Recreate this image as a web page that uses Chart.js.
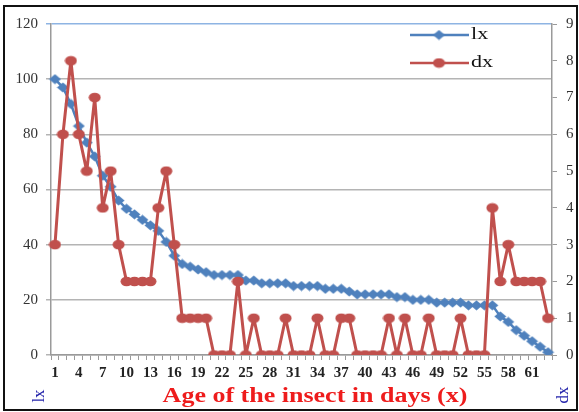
<!DOCTYPE html>
<html><head><meta charset="utf-8">
<script src="https://cdn.jsdelivr.net/npm/chart.js@4.4.0/dist/chart.umd.min.js"></script>
<style>html,body{margin:0;padding:0;background:#fff}canvas{display:block}</style>
</head><body>
<canvas id="c" width="579" height="412"></canvas>
<script>
// Age of insect in days (categories)
const days = ['1','2','3','4','5','6','7','8','9','10','11','12','13','14','15','16','17','18','19','20','21','22','23','24','25','26','27','28','29','30','31','32','33','34','35','36','37','38','39','40','41','42','43','44','45','46','47','48','49','50','51','52','53','54','55','56','57','58','59','60','61','62','63'];
// lx: survivors (left axis)
const lx = [100,97,91,83,77,72,65,61,56,53,51,49,47,45,41,36,33,32,31,30,29,29,29,29,27,27,26,26,26,26,25,25,25,25,24,24,24,23,22,22,22,22,22,21,21,20,20,20,19,19,19,19,18,18,18,18,14,12,9,7,5,3,1];
// dx: deaths (right axis)
const dx = [3,6,8,6,5,7,4,5,3,2,2,2,2,4,5,3,1,1,1,1,0,0,0,2,0,1,0,0,0,1,0,0,0,1,0,0,1,1,0,0,0,0,1,0,1,0,0,1,0,0,0,1,0,0,0,4,2,3,2,2,2,2,1];
// tick labels
const xTickLabels = ['1','4','7','10','13','16','19','22','25','28','31','34','37','40','43','46','49','52','55','58','61'];
const lxTicks = [0,20,40,60,80,100,120];
const dxTicks = [0,1,2,3,4,5,6,7,8,9];

const BLUE = '#4f81bd', RED = '#c0504d';
const tickFont = {family:'Liberation Serif', size:15};

function marker(kind, color){
  const cv = document.createElement('canvas');
  cv.width = 13; cv.height = 11;
  const g = cv.getContext('2d');
  g.fillStyle = color;
  g.beginPath();
  if (kind==='d'){ g.moveTo(6.5,0.5); g.lineTo(12.5,5.5); g.lineTo(6.5,10.5); g.lineTo(0.5,5.5); g.closePath(); }
  else { g.ellipse(6.5,5.5,6,4.8,0,0,Math.PI*2); }
  g.fill();
  return cv;
}
const diamondImg = marker('d', BLUE);
const circleImg = marker('c', RED);

const overlay = {
  id:'overlay',
  afterDraw(chart){
    const ctx = chart.ctx;
    ctx.save();
    // outer frame
    ctx.strokeStyle = '#111'; ctx.lineWidth = 2;
    ctx.strokeRect(4, 6, 573, 404);
    // legend
    const items = [{t:'lx', c:BLUE, y:35, img:diamondImg}, {t:'dx', c:RED, y:63, img:circleImg}];
    items.forEach(it=>{
      ctx.strokeStyle = it.c; ctx.lineWidth = 2.5;
      ctx.beginPath(); ctx.moveTo(410, it.y); ctx.lineTo(469, it.y); ctx.stroke();
      ctx.drawImage(it.img, 439-6.5, it.y-5.5);
      ctx.save();
      ctx.translate(471, it.y); ctx.scale(1.3, 1);
      ctx.fillStyle = '#111'; ctx.font = '17px "Liberation Serif"';
      ctx.textAlign = 'left'; ctx.textBaseline = 'middle';
      ctx.fillText(it.t, 0, 0);
      ctx.restore();
    });
    // axis titles
    ctx.fillStyle = '#2222aa'; ctx.font = '17px "Liberation Serif"';
    ctx.textAlign = 'center'; ctx.textBaseline = 'middle';
    ctx.save(); ctx.translate(40, 396); ctx.rotate(-Math.PI/2); ctx.fillText('lx', 0, 0); ctx.restore();
    ctx.save(); ctx.translate(564, 395); ctx.rotate(-Math.PI/2); ctx.fillText('dx', 0, 0); ctx.restore();
    // x title
    ctx.save();
    ctx.translate(315, 397); ctx.scale(1.3, 1);
    ctx.fillStyle = '#ee1c1c'; ctx.font = 'bold 20px "Liberation Serif"';
    ctx.fillText('Age of the insect in days (x)', 0, 0);
    ctx.restore();
    ctx.restore();
  }
};

new Chart(document.getElementById('c'), {
  type:'line',
  data:{labels:days, datasets:[
    {label:'lx', data:lx, yAxisID:'y', borderColor:BLUE, backgroundColor:BLUE, borderWidth:2.5,
     borderJoinStyle:'round', pointStyle:diamondImg, tension:0, order:2},
    {label:'dx', data:dx, yAxisID:'y2', borderColor:RED, backgroundColor:RED, borderWidth:3,
     borderJoinStyle:'round', pointStyle:circleImg, tension:0, order:1}
  ]},
  options:{
    responsive:false, animation:false,
    layout:{padding:{top:24,left:0,right:0,bottom:0}},
    plugins:{legend:{display:false}, tooltip:{enabled:false}},
    scales:{
      x:{type:'category', offset:true,
         grid:{display:true, drawOnChartArea:false, offset:true, tickLength:5, color:'#9a9a9a', lineWidth:1},
         border:{color:'#9a9a9a', width:1.5},
         ticks:{autoSkip:false, maxRotation:0, minRotation:0, padding:4, color:'#222',
                font:{family:'Liberation Serif', size:15, weight:'bold'},
                callback:function(v){const l=this.getLabelForValue(v); return xTickLabels.includes(l)?l:'';}},
         afterFit:s=>{s.height=57;}},
      y:{position:'left', min:0, max:120,
         afterBuildTicks:s=>{s.ticks = lxTicks.map(v=>({value:v}));},
         grid:{color:c=>(c.tick && c.tick.value===120)?'#8eb4e3':'#b4b4b4', lineWidth:1.5, tickLength:5},
         border:{color:'#9a9a9a', width:1.5},
         ticks:{padding:8, color:'#333', font:tickFont},
         afterFit:s=>{s.width=51;}},
      y2:{position:'right', min:0, max:9,
         afterBuildTicks:s=>{s.ticks = dxTicks.map(v=>({value:v}));},
         grid:{drawOnChartArea:false, color:'#9a9a9a', tickLength:5},
         border:{color:'#9a9a9a', width:1.5},
         ticks:{padding:9, color:'#333', font:tickFont},
         afterFit:s=>{s.width=27;}}
    }
  },
  plugins:[overlay]
});
</script>
</body></html>
